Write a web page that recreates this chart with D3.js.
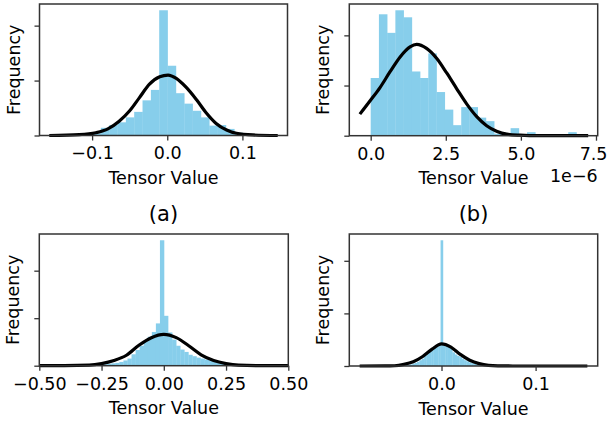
<!DOCTYPE html>
<html lang="en">
<head>
<meta charset="utf-8">
<title>Tensor value histograms</title>
<script src="https://cdn.jsdelivr.net/npm/d3@7"></script>
<style>
body { margin: 0; background: #fff; }
text { font-family: "DejaVu Sans", sans-serif; fill: #000; }
</style>
</head>
<body>
<script>

// panel (a) - histogram bins and fitted curve
var aStart = -0.155, aBinW = 0.0111;
var aFreq = [0, 0, 0, 0, 0.01, 0.04, 0.14, 0.19, 0.24, 0.33, 0.43, 0.64, 0.83, 2.28, 1.27,
             0.77, 0.58, 0.45, 0.33, 0.18, 0.19, 0.12, 0.05, 0.02, 0.01, 0, 0];
var aFitX = [-0.157, -0.117, -0.095, -0.079, -0.064, -0.050, -0.037, -0.024, -0.010, 0.001,
             0.012, 0.025, 0.039, 0.052, 0.065, 0.079, 0.092, 0.114, 0.147];
var aFitY = [0.0, 0.015, 0.05, 0.12, 0.26, 0.45, 0.69, 0.93, 1.07, 1.10,
             1.04, 0.88, 0.65, 0.41, 0.22, 0.10, 0.04, 0.01, 0.0];
var aTicks = [-0.1, 0, 0.1];
var aTickText = ["\u22120.1", "0.0", "0.1"];

// panel (b) - values in units of 1e-6
var bStart = 0, bBinW = 0.274;
var bFreq = [1.15, 2.42, 2.05, 2.50, 2.36, 1.28, 1.15, 1.64, 0.87, 0.52, 0.21, 0.57, 0.57,
             0.36, 0.29, 0.04, 0.03, 0.15, 0, 0.07, 0, 0, 0, 0, 0.07];
var bFitX = [-0.36, 0.0, 0.31, 0.64, 0.98, 1.31, 1.53, 1.86, 2.20, 2.53, 2.86, 3.20, 3.53,
             3.86, 4.19, 4.53, 4.97, 5.6, 7.24];
var bFitY = [0.43, 0.71, 0.96, 1.27, 1.57, 1.77, 1.82, 1.74, 1.54, 1.25, 0.94, 0.63, 0.38,
             0.20, 0.09, 0.03, 0.01, 0.0, 0.0];
var bTicks = [0, 2.5, 5, 7.5];
var bTickText = ["0.0", "2.5", "5.0", "7.5"];

// panel (c)
var cStart = -0.26, cBinW = 0.0163;
var cFreq = [0.02, 0.03, 0.04, 0.05, 0.06, 0.08, 0.11, 0.15, 0.24, 0.33, 0.42, 0.52, 0.61,
             0.71, 0.89, 2.64, 1.05, 0.70, 0.55, 0.42, 0.34, 0.29, 0.23, 0.20, 0.17, 0.15,
             0.13, 0.11, 0.08, 0.06, 0.04, 0.03, 0.02];
var cFitX = [-0.5, -0.4, -0.3, -0.25, -0.2, -0.15, -0.1, -0.05, 0, 0.05, 0.1, 0.15, 0.2,
             0.25, 0.3, 0.4, 0.5];
var cFitY = [0, 0.001, 0.012, 0.045, 0.11, 0.22, 0.43, 0.59, 0.66, 0.59, 0.42, 0.23, 0.11,
             0.045, 0.012, 0.001, 0];
var cTicks = [-0.5, -0.25, 0, 0.25, 0.5];
var cTickText = ["\u22120.50", "\u22120.25", "0.00", "0.25", "0.50"];

// panel (d)
var dStart = -0.041, dBinW = 0.0025;
var dFreq = [0.01, 0.015, 0.02, 0.03, 0.045, 0.06, 0.08, 0.11, 0.14, 0.19, 0.24, 0.28, 0.33,
             0.37, 0.40, 0.42, 2.39, 0.41, 0.40, 0.37, 0.33, 0.26, 0.22, 0.19, 0.17, 0.14,
             0.11, 0.09, 0.07, 0.055, 0.04, 0.03, 0.02, 0.015, 0.01];
var dFitX = [-0.087, -0.06, -0.05, -0.04, -0.03, -0.02, -0.01, 0, 0.01, 0.02, 0.03, 0.04,
             0.05, 0.06, 0.08, 0.155];
var dFitY = [0, 0.001, 0.005, 0.03, 0.08, 0.18, 0.32, 0.42, 0.36, 0.22, 0.11, 0.045,
             0.012, 0.003, 0, 0];
var dTicks = [0, 0.1];
var dTickText = ["0.0", "0.1"];

var yTicks = [0, 1, 2];

var w = 608, h = 422;
var fs = 17.5;
var svg = d3.select("body").append("svg")
    .attr("width", w)
    .attr("height", h);

var panels = [
  {start: aStart, binW: aBinW, freq: aFreq, fitX: aFitX, fitY: aFitY, ticks: aTicks, tickText: aTickText,
   left: 39.5, right: 287.5, top: 4, bottom: 135.5, xDom: [-0.170, 0.160]},
  {start: bStart, binW: bBinW, freq: bFreq, fitX: bFitX, fitY: bFitY, ticks: bTicks, tickText: bTickText,
   left: 349.3, right: 597.7, top: 4, bottom: 135.7, xDom: [-0.712, 7.557], offset: "1e\u22126"},
  {start: cStart, binW: cBinW, freq: cFreq, fitX: cFitX, fitY: cFitY, ticks: cTicks, tickText: cTickText,
   left: 39.3, right: 288.3, top: 234, bottom: 365.7, xDom: [-0.5, 0.5]},
  {start: dStart, binW: dBinW, freq: dFreq, fitX: dFitX, fitY: dFitY, ticks: dTicks, tickText: dTickText,
   left: 349.3, right: 597.7, top: 234, bottom: 366, xDom: [-0.098, 0.166]}
];

panels.forEach(function(p){
  var x = d3.scaleLinear().domain(p.xDom).range([p.left, p.right]);
  var y = d3.scaleLinear().domain([0, d3.max(p.freq) * 1.05]).range([p.bottom, p.top]);
  var g = svg.append("g");

  // bars
  g.selectAll("rect.bar")
    .data(p.freq)
    .enter()
    .append("rect")
    .attr("class", "bar")
    .attr("x", function(d, i){ return x(p.start + i * p.binW); })
    .attr("width", function(d, i){ return x(p.start + (i + 1) * p.binW) - x(p.start + i * p.binW) + 0.3; })
    .attr("y", function(d){ return y(d); })
    .attr("height", function(d){ return y(0) - y(d); })
    .style("fill", "#87ceeb");

  // fitted curve
  var pts = p.fitX.map(function(v, i){ return [v, p.fitY[i]]; });
  var line = d3.line()
    .x(function(d){ return x(d[0]); })
    .y(function(d){ return y(d[1]); })
    .curve(d3.curveMonotoneX);
  g.append("path")
    .attr("d", line(pts))
    .style("fill", "none")
    .style("stroke", "#000")
    .style("stroke-width", 3.2)
    .style("stroke-linejoin", "round");

  // x axis
  var xa = g.append("g")
    .attr("transform", "translate(0," + p.bottom + ")")
    .call(d3.axisBottom(x).tickValues(p.ticks)
      .tickFormat(function(d, i){ return p.tickText[i]; })
      .tickSize(5).tickPadding(6.5));
  xa.select(".domain").remove();
  xa.selectAll("line").style("stroke", "#333").style("stroke-width", 1.3);
  xa.selectAll("text").attr("font-size", fs).attr("font-family", "DejaVu Sans, sans-serif").style("fill", "#000");

  // keep labels at the right edge inside the page
  xa.selectAll("text").each(function(){
    var b = this.getBBox();
    var tr = this.parentNode.transform.baseVal.consolidate();
    var tx = tr ? tr.matrix.e : 0;
    var over = tx + b.x + b.width - (w - 0.5);
    if (over > 0) d3.select(this).attr("x", -over);
  });

  // y axis, ticks without labels
  var ya = g.append("g")
    .attr("transform", "translate(" + p.left + ",0)")
    .call(d3.axisLeft(y).tickValues(yTicks).tickFormat("").tickSize(5));
  ya.select(".domain").remove();
  ya.selectAll("line").style("stroke", "#333").style("stroke-width", 1.3);

  // frame
  g.append("rect")
    .attr("x", p.left).attr("y", p.top)
    .attr("width", p.right - p.left).attr("height", p.bottom - p.top)
    .style("fill", "none").style("stroke", "#333").style("stroke-width", 1.5);

  g.append("text")
    .attr("x", (p.left + p.right) / 2)
    .attr("y", p.bottom + 48.5)
    .attr("text-anchor", "middle")
    .attr("font-size", fs)
    .text("Tensor Value");

  g.append("text")
    .attr("transform", "translate(" + (p.left - 20) + "," + ((p.top + p.bottom) / 2) + ") rotate(-90)")
    .attr("text-anchor", "middle")
    .attr("font-size", fs)
    .text("Frequency");

  if (p.offset) {
    g.append("text")
      .attr("x", p.right)
      .attr("y", p.bottom + 46)
      .attr("text-anchor", "end")
      .attr("font-size", fs)
      .text(p.offset);
  }
});

// sub-figure captions
svg.append("text").attr("x", 163.5).attr("y", 221).attr("text-anchor", "middle")
  .attr("font-size", 21).text("(a)");
svg.append("text").attr("x", 473.5).attr("y", 221).attr("text-anchor", "middle")
  .attr("font-size", 21).text("(b)");

</script>
</body>
</html>
